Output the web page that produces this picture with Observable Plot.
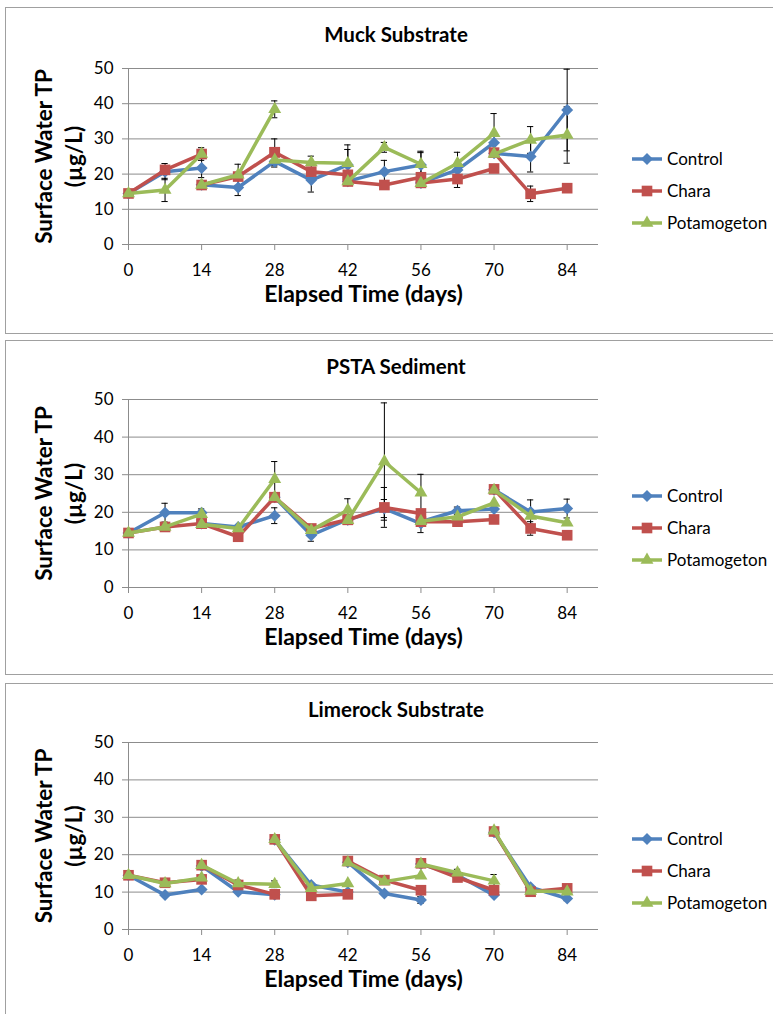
<!DOCTYPE html>
<html><head><meta charset="utf-8">
<script src="https://cdn.jsdelivr.net/npm/d3@7"></script>
<script src="https://cdn.jsdelivr.net/npm/@observablehq/plot@0.6"></script>
<style>
html,body{margin:0;padding:0;background:#fff;overflow:hidden;width:773px;height:1014px;}
body{position:relative;font-family:Lato,"Open Sans",sans-serif;}
.box{position:absolute;left:5px;width:790px;border:1px solid #a0a0a0;box-sizing:border-box;}
.ttl{position:absolute;left:5px;width:782px;text-align:center;font-weight:bold;font-size:20.5px;line-height:24px;color:#000;}
</style></head><body>
<script>
const series = ["Control", "Chara", "Potamogeton"];
const colors = ["#4F81BD", "#C0504D", "#9BBB59"];
const symbols = ["diamond2", "square", "triangle"];
const xTicks = [0, 14, 28, 42, 56, 70, 84];
const yTicks = [0, 10, 20, 30, 40, 50];
// sampling days; each 14-day run is a separate line segment
const days = [0,7,14, 14,21,28, 28,35,42, 42,49,56, 56,63,70, 70,77,84];

// Muck Substrate
const muckControl = [14.5,20.7,21.7, 17.0,16.2,23.6, 23.6,18.3,22.6, 18.0,20.7,22.6, 17.5,21.2,28.9, 25.9,25.0,38.2];
const muckChara   = [14.5,21.2,25.7, 16.9,19.3,26.2, 26.2,20.7,19.8, 17.9,16.9,19.1, 17.5,18.6,21.6, 26.1,14.4,16.0];
const muckPota    = [14.5,15.5,25.7, 16.9,19.8,38.4, 24.0,23.3,23.1, 17.9,27.6,22.8, 17.4,23.1,31.6, 25.7,29.7,31.1];
const muckControlErr = [0,2.3,2.7, 0,2.3,1.6, 0,3.4,4.4, 0,3.2,3.5, 0,5.0,0, 0,4.4,11.6];
const muckCharaErr   = [0,0,1.8, 0,0,3.8, 0,0,0, 0,0,0, 0,0,0, 0,2.2,0];
const muckPotaErr    = [0,3.3,0, 0,3.0,2.4, 0,1.8,5.2, 0,1.4,3.7, 0,0,5.6, 0,3.8,8.0];

// PSTA Sediment
const pstaControl = [14.5,19.9,19.9, 17.0,16.1,19.1, 24.0,13.9,18.1, 18.0,21.0,17.0, 17.5,20.4,20.9, 26.0,20.1,21.0];
const pstaChara   = [14.5,16.1,17.0, 17.0,13.5,24.0, 24.0,15.7,18.1, 18.0,21.3,19.7, 17.5,17.5,18.1, 26.1,15.7,13.9];
const pstaPota    = [14.5,16.1,19.5, 16.8,15.7,28.8, 24.0,15.2,20.6, 17.9,33.5,25.2, 17.6,18.8,22.5, 25.9,19.0,17.2];
const pstaControlErr = [0,2.5,1.0, 0,0,2.1, 0,1.6,0, 0,2.4,2.4, 0,1.0,0, 0,3.2,2.5];
const pstaCharaErr   = [0,0,0, 0,0,0, 0,0,0, 0,5.3,0, 0,0,0, 0,1.8,0];
const pstaPotaErr    = [0,0,0, 0,0,4.7, 0,0,3.0, 0,15.6,4.9, 0,0,0, 0,0,0];

// Limerock Substrate
const limeControl = [14.5,9.2,10.7, 17.0,10.1,9.3, 24.0,11.9,10.0, 18.0,9.6,7.9, 17.5,14.5,9.2, 26.0,11.3,8.3];
const limeChara   = [14.5,12.5,13.4, 17.2,11.9,9.4, 24.1,9.0,9.4, 18.3,13.2,10.5, 17.7,13.9,10.5, 26.2,10.1,11.0];
const limePota    = [14.5,12.3,13.8, 17.2,12.3,12.1, 24.1,11.0,12.3, 17.9,12.8,14.4, 17.5,15.2,13.0, 26.4,10.3,10.1];
const limeControlErr = [0,0,0, 0,0,0, 0,0,0, 0,0,0.9, 0,0,0, 0,0,0.6];
const limeCharaErr   = [0,0,0, 0,0,0, 0,0,0, 0,0,0, 0,0,0, 0,0,0];
const limePotaErr    = [0,0,0, 0,0.9,0.9, 0,0,0, 0,0,0, 0,0.9,1.7, 0,0,0];

const panels = [
  {title: "Muck Substrate", top: 7, h: 327, mt: 61, mb: 90, titleY: 22, legY: [159,191,223],
   vals: [muckControl, muckChara, muckPota], errs: [muckControlErr, muckCharaErr, muckPotaErr]},
  {title: "PSTA Sediment", top: 340, h: 335, mt: 59, mb: 88, titleY: 354, legY: [496,528,560],
   vals: [pstaControl, pstaChara, pstaPota], errs: [pstaControlErr, pstaCharaErr, pstaPotaErr]},
  {title: "Limerock Substrate", top: 683, h: 334, mt: 59, mb: 88, titleY: 697, legY: [839,871,903],
   vals: [limeControl, limeChara, limePota], errs: [limeControlErr, limeCharaErr, limePotaErr]}
];

const symR = {diamond2: 5.4, square: 6.0, triangle: 4.8};

for (const p of panels) {
  const box = document.createElement("div");
  box.className = "box";
  box.style.top = p.top + "px";
  box.style.height = p.h + "px";
  document.body.appendChild(box);

  const rows = [];
  series.forEach((s, si) => {
    p.vals[si].forEach((v, i) => rows.push({series: s, day: days[i], seg: Math.floor(i / 3), v, e: p.errs[si][i]}));
  });
  const errRows = rows.filter(d => d.e > 0);

  const marks = [
    Plot.ruleY(yTicks.filter(t => t > 0), {stroke: "#8c8c8c", strokeWidth: 1}),
    Plot.axisX({ticks: xTicks, tickSize: 6, tickPadding: 13, stroke: "#8c8c8c", fill: "#000", label: null}),
    Plot.axisY({ticks: yTicks, tickSize: 6, tickPadding: 9, stroke: "#8c8c8c", fill: "#000", label: null}),
    Plot.ruleY([0], {stroke: "#8c8c8c"}),
    Plot.ruleX([0], {stroke: "#8c8c8c"}),
    Plot.text(["Elapsed Time (days)"], {frameAnchor: "bottom", dy: 57, fontWeight: "bold", fontSize: 23, fill: "#000"}),
    Plot.text(["Surface Water TP\n(µg/L)"], {frameAnchor: "left", textAnchor: "middle", lineAnchor: "middle", dx: -71, rotate: -90, fontWeight: "bold", fontSize: 22.5, lineHeight: 1.33, fill: "#000"}),
    Plot.ruleX(errRows, {x: "day", y1: d => d.v - d.e, y2: d => d.v + d.e, stroke: "#000", strokeWidth: 1}),
    Plot.ruleY(errRows, {y: d => d.v + d.e, x1: d => d.day - 0.6, x2: d => d.day + 0.6, stroke: "#000", strokeWidth: 1}),
    Plot.ruleY(errRows, {y: d => d.v - d.e, x1: d => d.day - 0.6, x2: d => d.day + 0.6, stroke: "#000", strokeWidth: 1})
  ];
  series.forEach((s, si) => {
    const data = rows.filter(d => d.series === s);
    marks.push(Plot.line(data, {x: "day", y: "v", z: "seg", stroke: "series", strokeWidth: 3.5}));
    marks.push(Plot.dot(data, {x: "day", y: "v", fill: "series", symbol: () => symbols[si], r: symR[symbols[si]], stroke: "none"}));
  });

  const chart = Plot.plot({
    width: 773, height: p.h,
    marginLeft: 128, marginRight: 175, marginTop: p.mt, marginBottom: p.mb,
    style: {fontFamily: "Lato, 'Open Sans', sans-serif", fontSize: "17px", background: "transparent", overflow: "visible"},
    x: {domain: [0, 90]},
    y: {domain: [0, 50]},
    color: {domain: series, range: colors},
    symbol: {domain: symbols, range: symbols},
    marks
  });
  chart.style.position = "absolute";
  chart.style.top = p.top + "px";
  chart.style.left = "0px";
  document.body.appendChild(chart);

  const t = document.createElement("div");
  t.className = "ttl";
  t.style.top = p.titleY + "px";
  t.textContent = p.title;
  document.body.appendChild(t);

  // legend
  const base = p.legY[0] - 20;
  const leg = d3.create("svg").attr("width", 153).attr("height", 100)
    .style("position", "absolute").style("left", "620px").style("top", base + "px")
    .style("overflow", "visible");
  series.forEach((s, si) => {
    const y = p.legY[si] - base;
    leg.append("line").attr("x1", 12).attr("x2", 42).attr("y1", y).attr("y2", y)
      .attr("stroke", colors[si]).attr("stroke-width", 3.5);
    const sym = {diamond2: d3.symbolDiamond2, square: d3.symbolSquare, triangle: d3.symbolTriangle}[symbols[si]];
    const r = symR[symbols[si]];
    leg.append("path").attr("d", d3.symbol(sym, Math.PI * r * r)()).attr("transform", `translate(27,${y})`)
      .attr("fill", colors[si]);
    leg.append("text").attr("x", 47).attr("y", y).attr("dy", "0.35em")
      .attr("font-family", "Lato, 'Open Sans', sans-serif").attr("font-size", 17).attr("fill", "#000").text(s);
  });
  document.body.appendChild(leg.node());
}
</script>
</body></html>
